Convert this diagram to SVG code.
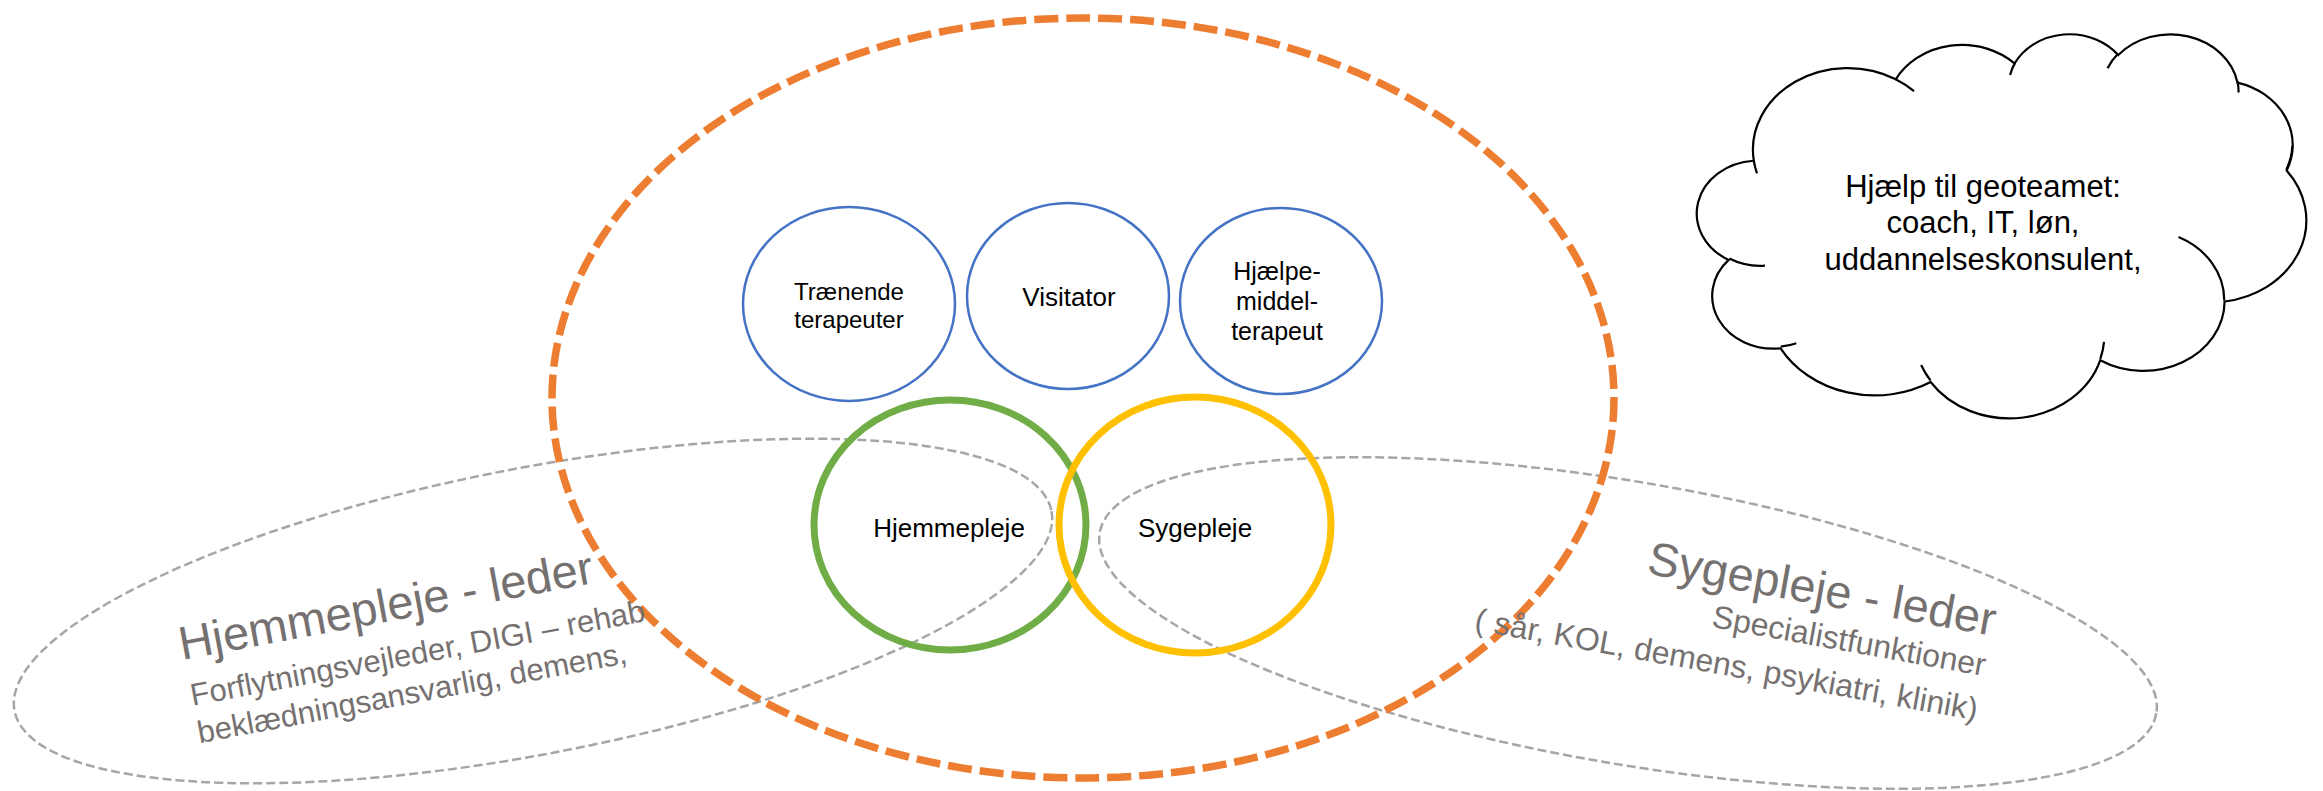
<svg xmlns="http://www.w3.org/2000/svg" width="2323" height="791" viewBox="0 0 2323 791">
<style>
.t{font-family:"Liberation Sans",Arial,sans-serif;fill:#000}
.g{font-family:"Liberation Sans",Arial,sans-serif;fill:#767171}
.blue{fill:#fff;stroke:#4472C4;stroke-width:2.5}
.grayd{fill:none;stroke:#A6A6A6;stroke-width:2.5;stroke-dasharray:9 4}
.cl{stroke:#000;stroke-width:2.2;vector-effect:non-scaling-stroke}
</style>
<rect width="2323" height="791" fill="#fff"/>
<g id="connectors"/>
<g id="hjemmepleje-leder">
  <ellipse cx="0" cy="0" rx="528" ry="143" transform="translate(533 611) rotate(-10.9)" class="grayd"/>
</g>
<g id="sygepleje-leder">
  <ellipse cx="0" cy="0" rx="536" ry="141" transform="translate(1628 623) rotate(9.7)" class="grayd"/>
</g>
<g id="geoteam">
  <ellipse cx="1083" cy="398" rx="531" ry="380" fill="none" stroke="#ED7D31" stroke-width="7.5" stroke-dasharray="24 8"/>
</g>
<g id="traenende">
  <ellipse cx="849" cy="304" rx="106" ry="97" class="blue"/>
  <text class="t" font-size="24" text-anchor="middle"><tspan x="849" y="300">Trænende</tspan><tspan x="849" y="328">terapeuter</tspan></text>
</g>
<g id="visitator">
  <ellipse cx="1068" cy="296" rx="101" ry="93" class="blue"/>
  <text class="t" font-size="26" text-anchor="middle" x="1069" y="306">Visitator</text>
</g>
<g id="hjaelpemiddel">
  <ellipse cx="1281" cy="301" rx="101" ry="93" class="blue"/>
  <text class="t" font-size="25" text-anchor="middle"><tspan x="1277" y="280">Hjælpe-</tspan><tspan x="1277" y="310">middel-</tspan><tspan x="1277" y="340">terapeut</tspan></text>
</g>
<g id="hjemmepleje">
  <ellipse cx="950" cy="525" rx="136" ry="125" fill="none" stroke="#70AD47" stroke-width="7"/>
  <text class="t" font-size="26" text-anchor="middle" x="949" y="537">Hjemmepleje</text>
</g>
<g id="sygepleje">
  <ellipse cx="1195" cy="525" rx="136" ry="128" fill="none" stroke="#FFC000" stroke-width="7"/>
  <text class="t" font-size="26" text-anchor="middle" x="1195" y="537">Sygepleje</text>
</g>
<g id="hjemmepleje-leder-text" transform="translate(182 660) rotate(-10.6)">
  <text class="g" font-size="47" x="0" y="0">Hjemmepleje - leder</text>
  <text class="g" font-size="31" x="2" y="47">Forflytningsvejleder, DIGI – rehab</text>
  <text class="g" font-size="31" x="2" y="85">beklædningsansvarlig, demens,</text>
</g>
<g id="sygepleje-leder-text" transform="translate(1993 636) rotate(10.2)" text-anchor="end">
  <text class="g" font-size="47" x="0" y="0">Sygepleje - leder</text>
  <text class="g" font-size="32" x="-2" y="41">Specialistfunktioner</text>
  <text class="g" font-size="32" x="-2" y="86">( sår, KOL, demens, psykiatri, klinik)</text>
</g>
<g id="cloud">
  <g transform="translate(1699 33) scale(0.014051 0.0088889)">
    <path class="cl" fill="#fff" d="M3900 14370 A6753 9190 0 0 1 14006 5203 A5333 7267 0 0 1 22459 3434 A4365 5945 0 0 1 29838 2485 A4857 6595 0 0 1 38323 5580 A5333 7273 0 0 1 41823 15464 A6775 9220 0 0 1 37407 30204 A5785 7867 0 0 1 28558 36814 A6752 9215 0 0 1 16484 39267 A7720 10543 0 0 1 5807 35471 A4360 5936 0 0 1 2110 25526 A4345 5945 0 0 1 3900 14370 Z"/>
    <path class="cl" fill="none" d="M4693 26177 A4345 5945 0 0 1 2160 25380 M6928 34899 A4360 5936 0 0 1 5816 35284 M16478 39090 A6752 9215 0 0 1 15809 37349 M28827 34751 A6752 9215 0 0 1 28560 36660 M34129 22954 A5785 7867 0 0 1 37381 30090 M41798 15354 A5333 7273 0 0 0 42227 12726 M38324 5426 A4857 6595 0 0 1 38400 6690 M29078 3952 A4857 6595 0 0 1 29820 2340 M22141 4720 A4365 5945 0 0 1 22500 3330 M14000 5192 A6753 9190 0 0 1 15301 6543 M4127 15789 A6753 9190 0 0 1 3900 14371"/>
  </g>
  <text class="t" font-size="31" text-anchor="middle"><tspan x="1983" y="197">Hjælp til geoteamet:</tspan><tspan x="1983" y="233">coach, IT, løn,</tspan><tspan x="1983" y="270">uddannelseskonsulent,</tspan></text>
</g>
</svg>
